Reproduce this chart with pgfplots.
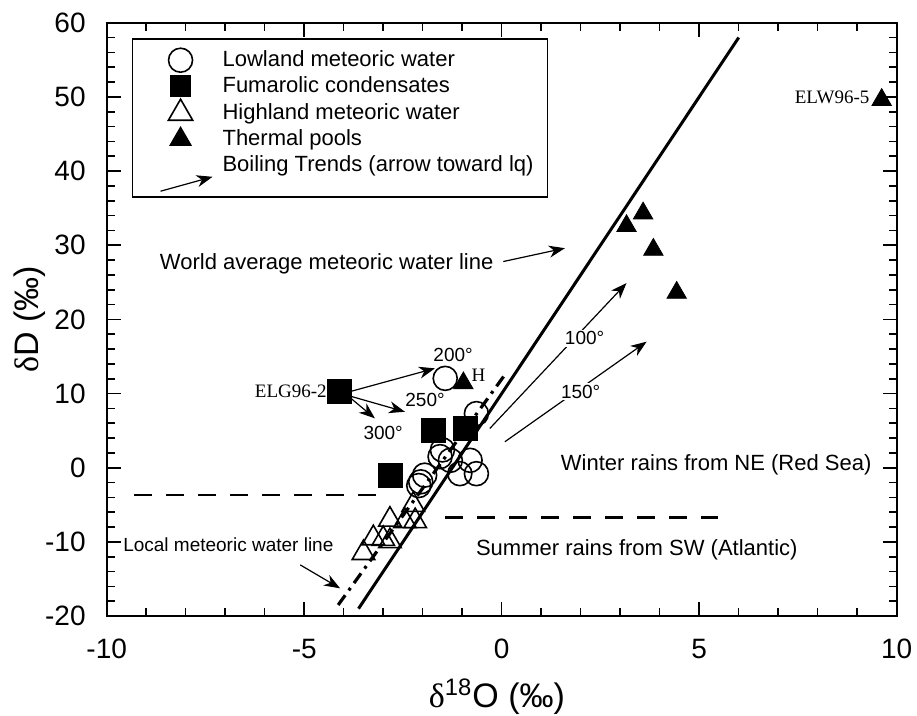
\documentclass[border=0pt]{standalone}
\usepackage{fontspec}
\setmainfont{Liberation Sans}
\newfontfamily\serif{Liberation Serif}
\usepackage{pgfplots}
\pgfplotsset{compat=1.18}
\usetikzlibrary{arrows.meta}

\tikzset{
  arr/.style={black, line width=0.6pt, -{Stealth[length=8pt,width=6pt,inset=2.5pt]}},
  lab/.style={font=\fontsize{11}{13}\selectfont},
  deg/.style={font=\fontsize{9.5}{11}\selectfont},
  ser/.style={font=\fontsize{9.5}{11}\selectfont\serif},
}

\begin{document}
\begin{tikzpicture}
\begin{axis}[
  at={(0,0)}, anchor=south west,
  scale only axis, width=395pt, height=296.7pt,
  xmin=-10, xmax=10, ymin=-20, ymax=60,
  xtick={-10,-5,...,10}, ytick={-20,-10,...,60},
  minor x tick num=4, minor y tick num=4,
  tick align=inside,
  major tick length=7pt, minor tick length=4pt,
  tick style={black, line width=0.8pt},
  axis line style={line width=1.1pt},
  /pgf/number format/assume math mode=true,
  tick label style={font=\fontsize{14}{16}\selectfont},
  xticklabel style={yshift=-8pt},
  yticklabel style={xshift=-7pt},
  xlabel={{\serif δ}\textsuperscript{18}O (‰)},
  ylabel={{\serif δ}D (‰)},
  xlabel style={at={(axis description cs:0.494,-0.136)}, anchor=center, font=\fontsize{17}{19}\selectfont},
  ylabel style={at={(axis description cs:-0.097,0.5)}, anchor=center, font=\fontsize{17}{19}\selectfont},
  clip=false,
  legend cell align=left,
  legend style={at={(0.0316,0.9737)}, anchor=north west, draw=black, line width=0.9pt,
    inner xsep=7pt, inner ysep=4pt, column sep=9pt, row sep=0pt,
    nodes={inner sep=0pt}, font=\fontsize{11}{13}\selectfont},
  legend image code/.code={\path[draw=none] (-5pt,-6.5pt) rectangle (24pt,6.5pt);
    \draw[#1] plot coordinates {(12pt,0pt)};},
]

% legend
\addlegendimage{only marks, mark=o, mark size=6pt, line width=0.8pt, black}
\addlegendentry{Lowland meteoric water}
\addlegendimage{only marks, mark=square*, mark size=5pt, black}
\addlegendentry{Fumarolic condensates}
\addlegendimage{only marks, mark=triangle, mark size=7pt, line width=0.8pt, black}
\addlegendentry{Highland meteoric water}
\addlegendimage{only marks, mark=triangle*, mark size=5.7pt, black}
\addlegendentry{Thermal pools}
\addlegendimage{legend image code/.code={\path[draw=none] (-5pt,-12pt) rectangle (24pt,6.5pt);
    \draw[overlay, arr] (2pt,-13pt) -- (28pt,-5.8pt);}}
\addlegendentry{Boiling Trends (arrow toward lq)}

% water lines
\addplot[black, line width=1.5pt, forget plot] coordinates {(-3.625,-19) (6,58)};
\addplot[black, line width=1.6pt, dash pattern=on 6pt off 3pt on 1.5pt off 3pt, forget plot]
  coordinates {(-4.14,-18.5) (0.13,12.9)};
\addplot[black, line width=1.1pt, dash pattern=on 9pt off 7pt, forget plot]
  coordinates {(-9.3,-3.7) (-3.0,-3.7)};
\addplot[black, line width=1.1pt, dash pattern=on 9pt off 7pt, forget plot]
  coordinates {(-1.43,-6.7) (5.48,-6.7)};

% boiling trend arrows
\addplot[arr, forget plot] coordinates {(-0.30,5.3) (3.16,24.9)};
\addplot[arr, forget plot] coordinates {(0.08,3.5) (3.67,17.0)};
\addplot[arr, forget plot] coordinates {(-3.85,10.25) (-1.69,13.4)};
\addplot[arr, forget plot] coordinates {(-3.80,9.6) (-2.45,7.55)};
\addplot[arr, forget plot] coordinates {(-3.85,9.5) (-3.21,6.66)};
% label pointers
\addplot[arr, forget plot] coordinates {(0.04,27.8) (1.60,29.6)};
\addplot[arr, forget plot] coordinates {(-5.1,-13.1) (-4.09,-16.26)};

% lowland meteoric water
\addplot[only marks, mark=o, mark size=6pt, line width=0.8pt, black, forget plot] coordinates {
  (-1.43,12.05) (-0.64,7.3) (-1.50,2.4) (-1.56,1.5) (-1.30,1.0) (-0.80,1.0)
  (-1.06,-0.8) (-0.64,-0.8) (-1.95,-1.0) (-2.05,-1.9) (-2.10,-2.4)
};
% highland meteoric water
\addplot[only marks, mark=triangle, mark size=6.5pt, line width=0.8pt, black, forget plot] coordinates {
  (-3.50,-11.5) (-3.25,-9.5) (-3.0,-9.6) (-2.83,-9.9) (-2.83,-7.0)
  (-2.45,-7.2) (-2.19,-7.2) (-2.24,-5.0)
};
% fumarolic condensates
\addplot[only marks, mark=square*, mark size=6pt, black, forget plot] coordinates {
  (-4.1,10.25) (-1.73,5.08) (-0.92,5.31) (-2.83,-0.98)
};
% thermal pools
\addplot[only marks, mark=triangle*, mark size=5.6pt, black, forget plot] coordinates {
  (3.58,34.3) (3.16,32.6) (3.84,29.4) (4.43,23.6) (9.62,49.6) (-0.97,11.4)
};

% annotations
\node[lab, anchor=east, inner sep=0pt] at (axis cs:-0.2,27.56) {World average meteoric water line};
\node[lab] at (axis cs:5.43,0.36) {Winter rains from NE (Red Sea)};
\node[lab] at (axis cs:3.42,-11.1) {Summer rains from SW (Atlantic)};
\node[font=\fontsize{9.5}{11}\selectfont, anchor=east, inner sep=0pt] at (axis cs:-4.25,-10.4) {Local meteoric water line};
\node[deg] at (axis cs:-1.23,15.2) {200°};
\node[deg] at (axis cs:-1.94,9.13) {250°};
\node[deg] at (axis cs:-3.0,4.68) {300°};
\node[deg, fill=white, inner sep=1pt] at (axis cs:2.1,17.45) {100°};
\node[deg, fill=white, inner sep=1pt] at (axis cs:2.0,10.25) {150°};
\node[ser] at (axis cs:-0.59,12.5) {H};
\node[ser, anchor=east, inner sep=0pt] at (axis cs:-4.42,10.25) {ELG96-2};
\node[ser, anchor=east, inner sep=0pt] at (axis cs:9.32,50.0) {ELW96-5};
\end{axis}
\pgfresetboundingbox
\path (-53.35pt,-49.5pt) rectangle (405.15pt,308.05pt);
\end{tikzpicture}
\end{document}
